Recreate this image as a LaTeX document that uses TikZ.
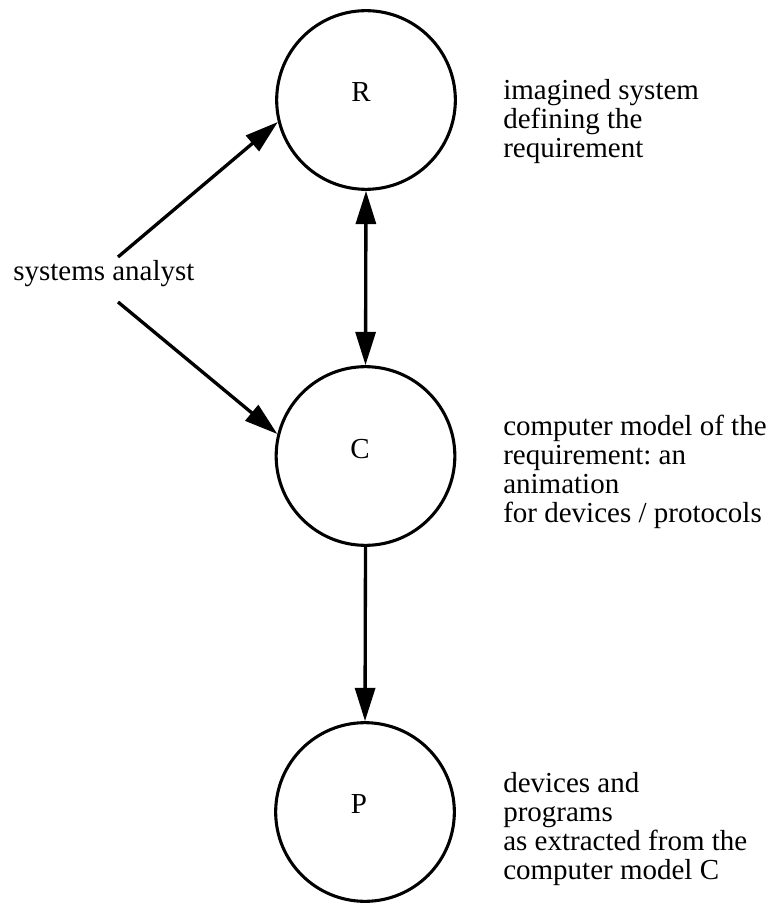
\documentclass[tikz,border=0pt]{standalone}
\usepackage{fontspec}
\setmainfont{Liberation Serif}
\usetikzlibrary{arrows.meta}
\begin{document}
\frenchspacing
\begin{tikzpicture}[x=0.75pt,y=-0.75pt,
  txt/.style={font=\fontsize{21.75}{21.75}\selectfont, inner sep=0pt},
  proc/.style={circle, draw, line width=2.3pt, minimum size=134pt, inner sep=0pt},
  tip/.tip={Triangle[length=25pt,width=15pt]},
  conn/.style={line width=2.5pt, -tip},
  biconn/.style={line width=2.5pt, tip-tip}]
\useasboundingbox (0,0) rectangle (772,905);
% circles
\node[proc] (R) at (366,100) {};
\node[proc] (C) at (365.5,456) {};
\node[proc] (P) at (365,812) {};
% circle labels
\node[txt, anchor=base] (Rl) at (361,102) {R};
\node[txt, anchor=base] (Cl) at (360,458) {C};
\node[txt, anchor=base] (Pl) at (359,813) {P};
% side texts (anchored at baseline of last line)
\node[txt, anchor=base west, align=left] (Rt) at (503,158) {imagined system\\defining the\\requirement};
\node[txt, anchor=base west, align=left] (Ct) at (503,522) {computer model of the\\requirement: an\\animation\\for devices / protocols};
\node[txt, anchor=base west, align=left] (Pt) at (503,879) {devices and\\programs\\as extracted from the\\computer model C};
% systems analyst
\node[txt, anchor=base west] (sa) at (13,281) {systems analyst};
\coordinate (sa1) at (118,257);
\coordinate (sa2) at (118,302);
% connectors
\draw[conn] (sa1) -- (R.194);
\draw[conn] (sa2) -- (C.166);
\draw[biconn] (R.south) -- (C.north);
\draw[conn] (C.south) -- (P.north);
\end{tikzpicture}
\end{document}
